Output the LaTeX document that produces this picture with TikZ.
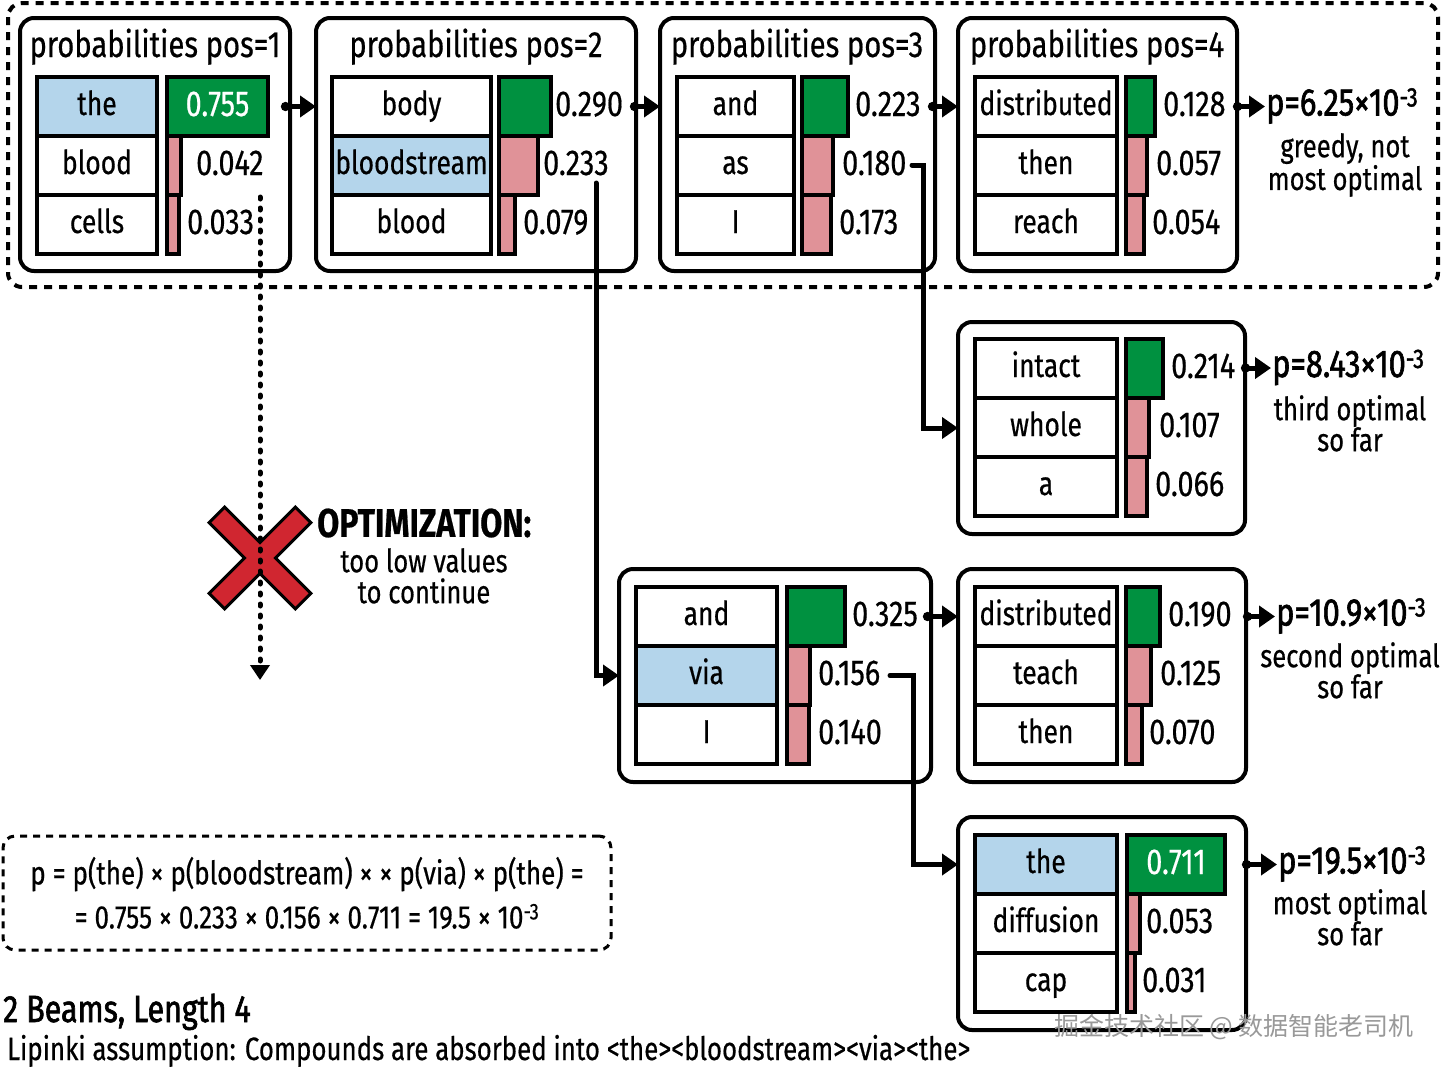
\documentclass[tikz,border=0pt]{standalone}
\usepackage{fontspec}
\setmainfont{Fira Sans}[FakeStretch=0.8,FakeBold=0.5]
\newfontfamily\medfont{Fira Sans}[FakeStretch=0.8,FakeBold=1.6]
\newfontfamily\cjk{Noto Sans CJK SC}
\usetikzlibrary{arrows.meta}
\definecolor{cblue}{RGB}{180,213,235}
\definecolor{cgreen}{RGB}{0,145,64}
\definecolor{cpink}{RGB}{224,146,152}
\definecolor{cred}{RGB}{208,38,48}
\newcommand\myfs[1]{\fontsize{#1}{#1}\selectfont}
\tikzset{
  outerbox/.style={draw, line width=4pt, rounded corners=14pt, fill=white},
  outerdash/.style={draw, line width=4pt, rounded corners=14pt, dash pattern=on 8pt off 7pt},
  fdash/.style={draw, line width=3pt, rounded corners=12pt, dash pattern=on 7pt off 6pt, align=center, font=\fontsize{32.5}{44}\selectfont},
  cellbox/.style={draw, line width=4pt},
  wordcell/.style={cellbox, fill=white, font=\myfs{33}, text height=23pt, text depth=6pt},
  hlcell/.style={wordcell, fill=cblue},
  gbar/.style={cellbox, fill=cgreen},
  pbar/.style={cellbox, fill=cpink},
  valfont/.style={font=\myfs{36}, text height=24pt, text depth=5pt},
  valtext/.style={valfont, anchor=west, inner sep=0pt},
  title/.style={anchor=base, inner sep=0pt, font=\myfs{36.5}},
  plabel/.style={anchor=west, inner sep=1pt, font=\medfont\myfs{38.5}, text height=25pt, text depth=7pt},
  comment/.style={anchor=north, inner sep=0pt, align=center, font=\fontsize{32}{31}\selectfont},
  arr/.style={line width=5pt, {Circle[length=9pt]}-{Triangle[length=16pt,width=21pt]}},
  conn/.style={line width=5pt, line cap=round, -{Triangle[length=16pt,width=21pt]}},
  dotarr/.style={line width=5pt, line cap=round, dash pattern=on 2pt off 9pt, -{Triangle[length=15pt,width=19pt]}},
}
\newcommand\rbox[7]{%
  \node[#6, minimum width={((#4)-(#2))*1pt}, minimum height={((#5)-(#3))*1pt}, inner sep=0pt, outer sep=0pt] (#1) at ({((#2)+(#4))/2},{((#3)+(#5))/2}) {#7};%
}
\newcommand\prow[8]{%
  \rbox{#1w}{\wxa}{#2}{\wxb}{#2+59}{#3}{#4}
  \rbox{#1b}{\bxa}{#2}{#5}{#2+59}{#6}{}
  \node[valtext] (#1v) at ({#7},{#2+29.5}) {#8};
}
\begin{document}
\begin{tikzpicture}[x=1pt,y=-1pt]
\useasboundingbox (0,0) rectangle (1442,1069);
\fill[white] (0,0) rectangle (1442,1069);

% greedy region
\draw[outerdash] (8,3) rectangle (1438,287);

% outer boxes
\rbox{b1}{20}{18}{290}{271}{outerbox}{}
\rbox{b2}{316}{18}{636}{271}{outerbox}{}
\rbox{b3}{660}{18}{935}{271}{outerbox}{}
\rbox{b4}{958}{18}{1237}{271}{outerbox}{}
\rbox{bi}{958}{322}{1245}{534}{outerbox}{}
\rbox{bv}{619}{569}{931}{782}{outerbox}{}
\rbox{bd}{958}{569}{1246}{782}{outerbox}{}
\rbox{bt}{958}{817}{1246}{1030}{outerbox}{}

% titles
\node[title] (t1) at (155,57) {probabilities pos=1};
\node[title] (t2) at (476,57) {probabilities pos=2};
\node[title] (t3) at (797,57) {probabilities pos=3};
\node[title] (t4) at (1097,57) {probabilities pos=4};

% box 1
\def\wxa{37}\def\wxb{157}\def\bxa{167}
\rbox{b1r1w}{\wxa}{77}{\wxb}{136}{hlcell}{the}
\rbox{b1r1b}{\bxa}{77}{268}{136}{gbar,valfont,text=white}{0.755}
\prow{b1r2}{136}{wordcell}{blood}{181}{pbar}{196}{0.042}
\prow{b1r3}{195}{wordcell}{cells}{179}{pbar}{187}{0.033}

% box 2
\def\wxa{332}\def\wxb{491}\def\bxa{499}
\prow{b2r1}{77}{wordcell}{body}{551}{gbar}{555}{0.290}
\prow{b2r2}{136}{hlcell}{bloodstream}{538}{pbar}{543}{0.233}
\prow{b2r3}{195}{wordcell}{blood}{515}{pbar}{523}{0.079}

% box 3
\def\wxa{677}\def\wxb{794}\def\bxa{802}
\prow{b3r1}{77}{wordcell}{and}{848}{gbar}{855}{0.223}
\prow{b3r2}{136}{wordcell}{as}{833}{pbar}{842}{0.180}
\prow{b3r3}{195}{wordcell}{I}{831}{pbar}{839}{0.173}

% box 4
\def\wxa{975}\def\wxb{1117}\def\bxa{1126}
\prow{b4r1}{77}{wordcell}{distributed}{1155}{gbar}{1163}{0.128}
\prow{b4r2}{136}{wordcell}{then}{1147}{pbar}{1156}{0.057}
\prow{b4r3}{195}{wordcell}{reach}{1144}{pbar}{1152}{0.054}

% intact box
\def\wxa{975}\def\wxb{1117}\def\bxa{1126}
\prow{bir1}{339}{wordcell}{intact}{1163}{gbar}{1171}{0.214}
\prow{bir2}{398}{wordcell}{whole}{1149}{pbar}{1159}{0.107}
\prow{bir3}{457}{wordcell}{a}{1147}{pbar}{1155}{0.066}

% via box
\def\wxa{636}\def\wxb{777}\def\bxa{787}
\prow{bvr1}{587}{wordcell}{and}{845}{gbar}{852}{0.325}
\prow{bvr2}{646}{hlcell}{via}{810}{pbar}{818}{0.156}
\prow{bvr3}{705}{wordcell}{I}{809}{pbar}{818}{0.140}

% distributed box (beam 2)
\def\wxa{975}\def\wxb{1117}\def\bxa{1126}
\prow{bdr1}{587}{wordcell}{distributed}{1160}{gbar}{1168}{0.190}
\prow{bdr2}{646}{wordcell}{teach}{1151}{pbar}{1160}{0.125}
\prow{bdr3}{705}{wordcell}{then}{1142}{pbar}{1149}{0.070}

% the box
\def\wxa{975}\def\wxb{1117}\def\bxa{1127}
\rbox{btr1w}{\wxa}{835}{\wxb}{894}{hlcell}{the}
\rbox{btr1b}{\bxa}{835}{1225}{894}{gbar,valfont,text=white}{0.711}
\prow{btr2}{894}{wordcell}{diffusion}{1140}{pbar}{1146}{0.053}
\prow{btr3}{953}{wordcell}{cap}{1135}{pbar}{1142}{0.031}

% result labels
\node[plabel] (p1) at (1265,106.5) {p=6.25×10\textsuperscript{-3}};
\node[comment] (c1) at (1345,133) {greedy, not\\most optimal};
\node[plabel] (p2) at (1271,368) {p=8.43×10\textsuperscript{-3}};
\node[comment] (c2) at (1350,395) {third optimal\\so far};
\node[plabel] (p3) at (1275,616.5) {p=10.9×10\textsuperscript{-3}};
\node[comment] (c3) at (1350,642) {second optimal\\so far};
\node[plabel] (p4) at (1277,864.5) {p=19.5×10\textsuperscript{-3}};
\node[comment] (c4) at (1350,889) {most optimal\\so far};

% connectors
\coordinate (s12) at (281,106.5);
\coordinate (s23) at (630,106.5);
\coordinate (s34) at (928,106.5);
\coordinate (s4p) at (1233,106.5);
\draw[arr] (s12) -- (s12 -| b2.west);
\draw[arr] (s23) -- (s23 -| b3.west);
\draw[arr] (s34) -- (s34 -| b4.west);
\draw[arr] (s4p) -- (p1.west);

\coordinate (sip) at (1241,368);
\draw[arr] (sip) -- (p2.west);
\coordinate (sdp) at (1243,616.5);
\draw[arr] (sdp) -- (p3.west);
\coordinate (stp) at (1242,864.5);
\draw[arr] (stp) -- (p4.west);

\coordinate (s2v) at (596,183);
\draw[conn] (s2v) -- (s2v |- bv.west) -- (bv.west);

\coordinate (s3i) at (912,165);
\coordinate (k3i) at (923,165);
\draw[conn] (s3i) -- (k3i) -- (k3i |- bi.west) -- (bi.west);

\coordinate (svd) at (923,616.5);
\draw[arr] (svd) -- (svd -| bd.west);

\coordinate (svt) at (890,675.5);
\coordinate (kvt) at (913,675.5);
\draw[conn] (svt) -- (kvt) -- (kvt |- btr1w) -- (bt.west |- btr1w);

% pruned branch
\begin{scope}[shift={(260,558)}, rotate=45]
\draw[line width=3pt, fill=cred, line join=miter]
  (11,11) -- (61,11) -- (61,-11) -- (11,-11) -- (11,-61) -- (-11,-61) -- (-11,-11)
  -- (-61,-11) -- (-61,11) -- (-11,11) -- (-11,61) -- (11,61) -- cycle;
\end{scope}
\coordinate (d0) at (260,197);
\coordinate (d1) at (260,680);
\draw[dotarr] (d0) -- (d1);
\node[anchor=west, inner sep=0pt, font=\bfseries\myfs{40}] (opt) at (317,523) {OPTIMIZATION:};
\node[comment] (optc) at (424,548) {too low values\\to continue};

% formula
\rbox{fbox}{3}{836}{611}{950}{fdash}{p = p(the) × p(bloodstream) × × p(via) × p(the) =\\= 0.755 × 0.233 × 0.156 × 0.711 = 19.5 × 10\textsuperscript{-3}}

% captions
\node[anchor=base west, inner sep=0pt, font=\medfont\myfs{38}] (cap1) at (3,1022) {2 Beams, Length 4};
\node[anchor=base west, inner sep=0pt, font=\myfs{32.3}] (cap2) at (7,1060) {Lipinki assumption: Compounds are absorbed into <the><bloodstream><via><the>};

% watermark
\node[text=black!40, font=\cjk\myfs{25}] (wm) at (1234,1027) {掘金技术社区 @ 数据智能老司机};
\end{tikzpicture}
\end{document}
